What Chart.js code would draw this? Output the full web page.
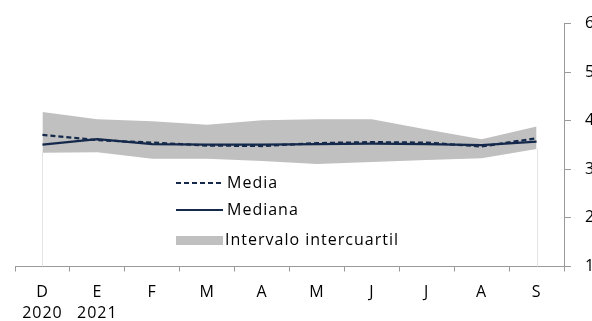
<!DOCTYPE html>
<html>
<head>
<meta charset="utf-8">
<script src="https://cdn.jsdelivr.net/npm/chart.js@4/dist/chart.umd.min.js"></script>
<style>
  html, body { margin: 0; padding: 0; background: #fff; }
  #wrap { width: 592px; height: 321px; }
</style>
</head>
<body>
<div id="wrap"><canvas id="c" width="592" height="321"></canvas></div>
<script>
// months Dec 2020 - Sep 2021
const months = [['D', '2020'], ['E', '2021'], 'F', 'M', 'A', 'M', 'J', 'J', 'A', 'S'];
const media   = [3.71, 3.60, 3.55, 3.49, 3.48, 3.54, 3.56, 3.55, 3.47, 3.64];
const mediana = [3.51, 3.62, 3.52, 3.51, 3.51, 3.52, 3.53, 3.52, 3.50, 3.57];
const q1      = [3.34, 3.35, 3.22, 3.22, 3.17, 3.11, 3.15, 3.19, 3.23, 3.42];
const q3      = [4.18, 4.03, 3.99, 3.92, 4.01, 4.03, 4.03, 3.82, 3.62, 3.88];
const yTicks  = [1, 2, 3, 4, 5, 6];

const NAVY = '#14294b';
const BAND = '#c0c0c0';
const AXIS = '#9a9a9a';
const FONT = "'Open Sans', sans-serif";
const FSIZE = 16;

// the original text is a bit wider than Open Sans, so spread the letters
const spacing = {
    id: 'spacing',
    beforeLayout(chart) { chart.ctx.letterSpacing = '1px'; },
    beforeDraw(chart) { chart.ctx.letterSpacing = '1px'; }
};

// faint vertical edges of the band (first and last month)
const bandEdges = {
    id: 'bandEdges',
    beforeDatasetsDraw(chart) {
        const { ctx, scales: { x, y } } = chart;
        ctx.save();
        ctx.strokeStyle = '#e3e3e3';
        ctx.lineWidth = 1;
        [0, q1.length - 1].forEach(i => {
            const px = Math.round(x.getPixelForValue(i)) + 0.5;
            ctx.beginPath();
            ctx.moveTo(px, y.getPixelForValue(q1[i]));
            ctx.lineTo(px, y.getPixelForValue(yTicks[0]));
            ctx.stroke();
        });
        ctx.restore();
    }
};

// legend drawn inside the plot area
const insideLegend = {
    id: 'insideLegend',
    afterDraw(chart) {
        const { ctx } = chart;
        const x0 = 176, x1 = 223, tx = 227;
        ctx.save();
        ctx.font = FSIZE + 'px ' + FONT;
        ctx.fillStyle = '#000';
        ctx.textBaseline = 'middle';

        ctx.strokeStyle = NAVY;
        ctx.lineWidth = 2;
        ctx.setLineDash([5, 3]);
        ctx.beginPath(); ctx.moveTo(x0, 183); ctx.lineTo(x1, 183); ctx.stroke();
        ctx.fillText('Media', tx, 183);

        ctx.setLineDash([]);
        ctx.beginPath(); ctx.moveTo(x0, 210); ctx.lineTo(x1, 210); ctx.stroke();
        ctx.fillText('Mediana', tx, 210);

        ctx.fillStyle = BAND;
        ctx.fillRect(x0, 236, x1 - x0, 9);
        ctx.fillStyle = '#000';
        ctx.fillText('Intervalo intercuartil', tx - 2, 240);
        ctx.restore();
    }
};

new Chart(document.getElementById('c'), {
    type: 'line',
    data: {
        labels: months,
        datasets: [
            { label: 'Media', data: media, borderColor: NAVY, borderWidth: 2.25, borderDash: [5, 3], pointRadius: 0, tension: 0, fill: false },
            { label: 'Mediana', data: mediana, borderColor: NAVY, borderWidth: 2.25, pointRadius: 0, tension: 0, fill: false },
            { label: 'q1', data: q1, borderWidth: 0, borderColor: 'rgba(0,0,0,0)', pointRadius: 0, tension: 0, fill: false },
            { label: 'Intervalo intercuartil', data: q3, borderWidth: 0, borderColor: 'rgba(0,0,0,0)', backgroundColor: BAND, pointRadius: 0, tension: 0, fill: '-1' }
        ]
    },
    options: {
        responsive: false,
        animation: false,
        layout: { padding: { left: 15, top: 19, right: 0, bottom: 0 } },
        plugins: {
            legend: { display: false },
            tooltip: { enabled: false },
            title: { display: false }
        },
        scales: {
            x: {
                offset: true,
                grid: { display: true, drawOnChartArea: false, offset: true, tickLength: 5, color: AXIS },
                border: { color: AXIS, width: 1 },
                ticks: { color: '#000', font: { family: FONT, size: FSIZE, lineHeight: 1.35 }, padding: 10, maxRotation: 0, autoSkip: false },
                afterFit(s) { s.height = 321 - 266.5; }
            },
            y: {
                position: 'right',
                min: yTicks[0],
                max: yTicks[yTicks.length - 1],
                afterBuildTicks(s) { s.ticks = yTicks.map(v => ({ value: v })); },
                grid: { display: true, drawOnChartArea: false, tickLength: 7, color: AXIS },
                border: { color: AXIS, width: 1 },
                ticks: { color: '#000', font: { family: FONT, size: FSIZE }, padding: 14 },
                afterFit(s) { s.width = 28; }
            }
        }
    },
    plugins: [spacing, bandEdges, insideLegend]
});
</script>
</body>
</html>
